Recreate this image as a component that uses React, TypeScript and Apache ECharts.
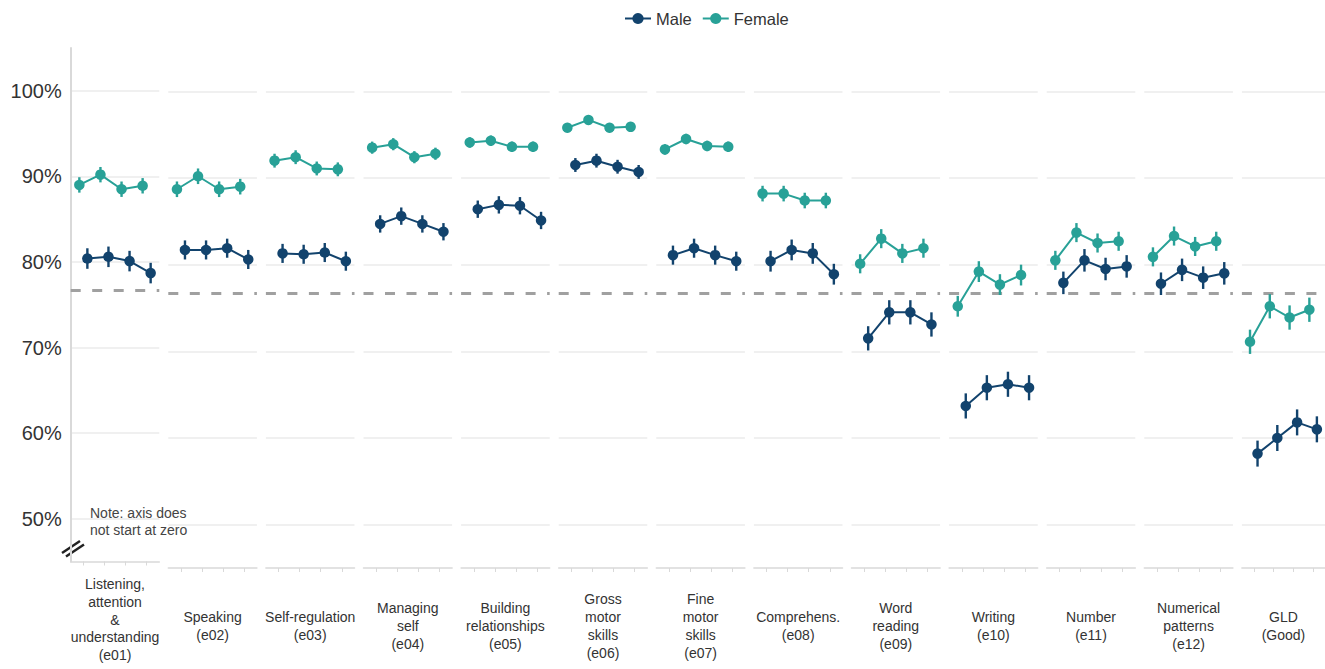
import React, { useEffect, useRef } from "react";
import * as echarts from "echarts";

// ---------- DATA ----------
const categories: string[] = [
  "Listening,\nattention\n&\nunderstanding\n(e01)",
  "Speaking\n(e02)",
  "Self-regulation\n(e03)",
  "Managing\nself\n(e04)",
  "Building\nrelationships\n(e05)",
  "Gross\nmotor\nskills\n(e06)",
  "Fine\nmotor\nskills\n(e07)",
  "Comprehens.\n(e08)",
  "Word\nreading\n(e09)",
  "Writing\n(e10)",
  "Number\n(e11)",
  "Numerical\npatterns\n(e12)",
  "GLD\n(Good)",
];

const yearPositions: number[] = [0, 1, 2, 3];

const femaleValues: number[][] = [
  [89.0, 90.2, 88.5, 88.9],
  [88.7, 90.2, 88.7, 89.0],
  [92.0, 92.4, 91.1, 91.0],
  [93.5, 93.9, 92.4, 92.8],
  [94.1, 94.3, 93.6, 93.6],
  [95.8, 96.7, 95.8, 95.9],
  [93.3, 94.5, 93.7, 93.6],
  [88.2, 88.2, 87.4, 87.4],
  [80.1, 83.0, 81.3, 81.9],
  [75.2, 79.2, 77.7, 78.8],
  [80.5, 83.7, 82.5, 82.7],
  [80.9, 83.3, 82.1, 82.7],
  [71.1, 75.2, 73.9, 74.8],
];

const maleValues: number[][] = [
  [80.4, 80.6, 80.1, 78.7],
  [81.7, 81.7, 81.9, 80.6],
  [81.3, 81.2, 81.4, 80.4],
  [84.7, 85.6, 84.7, 83.8],
  [86.4, 86.9, 86.8, 85.1],
  [91.5, 92.0, 91.3, 90.7],
  [81.1, 81.9, 81.1, 80.4],
  [80.4, 81.7, 81.3, 78.9],
  [71.5, 74.5, 74.5, 73.1],
  [63.7, 65.8, 66.2, 65.8],
  [77.9, 80.5, 79.5, 79.8],
  [77.8, 79.4, 78.5, 79.0],
  [58.2, 60.0, 61.8, 61.0],
];

// half-width of the confidence interval (percentage points), per area
const femaleError: number[] = [0.9, 0.9, 0.8, 0.7, 0.6, 0.5, 0.6, 0.9, 1.1, 1.2, 1.1, 1.1, 1.4];
const maleError: number[] = [1.2, 1.1, 1.1, 1.0, 1.0, 0.8, 1.1, 1.2, 1.4, 1.45, 1.3, 1.3, 1.5];

const referenceValue = 76.7;
const yTickValues: number[] = [50, 60, 70, 80, 90, 100];

// ---------- STYLE / LAYOUT ----------
const MALE_COLOR = "#12436D";
const FEMALE_COLOR = "#28A197";
const PANEL_LEFT = 70.7;
const PANEL_PITCH = 97.6;
const PANEL_WIDTH = 88.6;
const PLOT_TOP = 48;
const PLOT_HEIGHT = 520;
const DODGE = 0.19;
const FONT = "'Liberation Sans', Arial, sans-serif";

function buildOption() {
  const grid: any[] = [];
  const xAxis: any[] = [];
  const yAxis: any[] = [];
  const series: any[] = [];

  const errorRender = (color: string) => (params: any, api: any) => {
    const x = api.value(0);
    const p1 = api.coord([x, api.value(1)]);
    const p2 = api.coord([x, api.value(2)]);
    return {
      type: "line",
      shape: { x1: p1[0], y1: p1[1], x2: p2[0], y2: p2[1] },
      style: { stroke: color, lineWidth: 2.4 },
    };
  };

  categories.forEach((cat, i) => {
    grid.push({
      left: PANEL_LEFT + PANEL_PITCH * i,
      top: PLOT_TOP,
      width: PANEL_WIDTH,
      height: PLOT_HEIGHT,
      containLabel: false,
    });
    xAxis.push({
      type: "value",
      gridIndex: i,
      min: -0.6,
      max: 3.6,
      axisLine: { show: true, onZero: false, lineStyle: { color: "#d9d9d9", width: 1.5 } },
      axisTick: { show: true, customValues: yearPositions, length: 4, lineStyle: { color: "#d9d9d9", width: 1 } },
      axisLabel: { show: false },
      splitLine: { show: false },
      name: cat,
      nameLocation: "middle",
      nameGap: 58,
      nameTextStyle: {
        fontFamily: FONT,
        fontSize: 14,
        color: "#333",
        lineHeight: 17.8,
        align: "center",
        verticalAlign: "middle",
      },
    });
    yAxis.push({
      type: "value",
      gridIndex: i,
      min: 45,
      max: 105,
      axisLine: { show: i === 0, onZero: false, lineStyle: { color: "#d9d9d9", width: 2 } },
      axisTick: { show: false, customValues: yTickValues },
      axisLabel: {
        show: i === 0,
        customValues: yTickValues,
        formatter: "{value}%",
        fontFamily: FONT,
        fontSize: 20,
        color: "#333",
        margin: 9,
      },
      splitLine: { show: true, lineStyle: { color: "#ebebeb", width: 1.5 } },
    });

    const fData = yearPositions.map((p, k) => [p - DODGE, femaleValues[i][k]]);
    const mData = yearPositions.map((p, k) => [p + DODGE, maleValues[i][k]]);
    const fErr = yearPositions.map((p, k) => [p - DODGE, femaleValues[i][k] - femaleError[i], femaleValues[i][k] + femaleError[i]]);
    const mErr = yearPositions.map((p, k) => [p + DODGE, maleValues[i][k] - maleError[i], maleValues[i][k] + maleError[i]]);

    series.push({
      name: "Male",
      type: "line",
      xAxisIndex: i,
      yAxisIndex: i,
      data: mData,
      symbol: "circle",
      symbolSize: 10.5,
      itemStyle: { color: MALE_COLOR },
      lineStyle: { color: MALE_COLOR, width: 2 },
      z: 3,
      markLine: {
        silent: true,
        symbol: "none",
        label: { show: false },
        lineStyle: { color: "#a0a0a0", type: [10, 11.5], width: 3 },
        data: [{ yAxis: referenceValue }],
        z: 1,
      },
    });
    series.push({
      name: "Female",
      type: "line",
      xAxisIndex: i,
      yAxisIndex: i,
      data: fData,
      symbol: "circle",
      symbolSize: 10.5,
      itemStyle: { color: FEMALE_COLOR },
      lineStyle: { color: FEMALE_COLOR, width: 2 },
      z: 3,
    });
    series.push({
      name: "Male CI",
      type: "custom",
      xAxisIndex: i,
      yAxisIndex: i,
      data: mErr,
      encode: { x: 0, y: [1, 2] },
      renderItem: errorRender(MALE_COLOR),
      z: 2,
      silent: true,
    });
    series.push({
      name: "Female CI",
      type: "custom",
      xAxisIndex: i,
      yAxisIndex: i,
      data: fErr,
      encode: { x: 0, y: [1, 2] },
      renderItem: errorRender(FEMALE_COLOR),
      z: 2,
      silent: true,
    });
  });

  return {
    animation: false,
    backgroundColor: "#ffffff",
    legend: {
      data: ["Male", "Female"],
      left: 619,
      top: 5,
      itemWidth: 26,
      itemHeight: 14,
      itemGap: 10,
      textStyle: { fontFamily: FONT, fontSize: 16.5, color: "#333" },
    },
    grid,
    xAxis,
    yAxis,
    series,
    graphic: [
      {
        type: "line",
        shape: { x1: 62, y1: 553, x2: 80, y2: 541 },
        style: { stroke: "#222", lineWidth: 2.5 },
      },
      {
        type: "line",
        shape: { x1: 66, y1: 556.5, x2: 84, y2: 544.5 },
        style: { stroke: "#222", lineWidth: 2.5 },
      },
      {
        type: "text",
        left: 90,
        top: 504,
        style: {
          text: "Note: axis does\nnot start at zero",
          fontFamily: FONT,
          fontSize: 14,
          lineHeight: 17,
          fill: "#444",
        },
      },
    ],
  };
}

export default function App() {
  const ref = useRef<HTMLDivElement>(null);
  useEffect(() => {
    if (!ref.current) return;
    const chart = echarts.init(ref.current, undefined, { renderer: "svg" });
    chart.setOption(buildOption() as any);
    return () => chart.dispose();
  }, []);
  return (
    <div
      ref={ref}
      style={{ position: "fixed", left: 0, top: 0, width: 1325, height: 669, background: "#fff" }}
    />
  );
}
